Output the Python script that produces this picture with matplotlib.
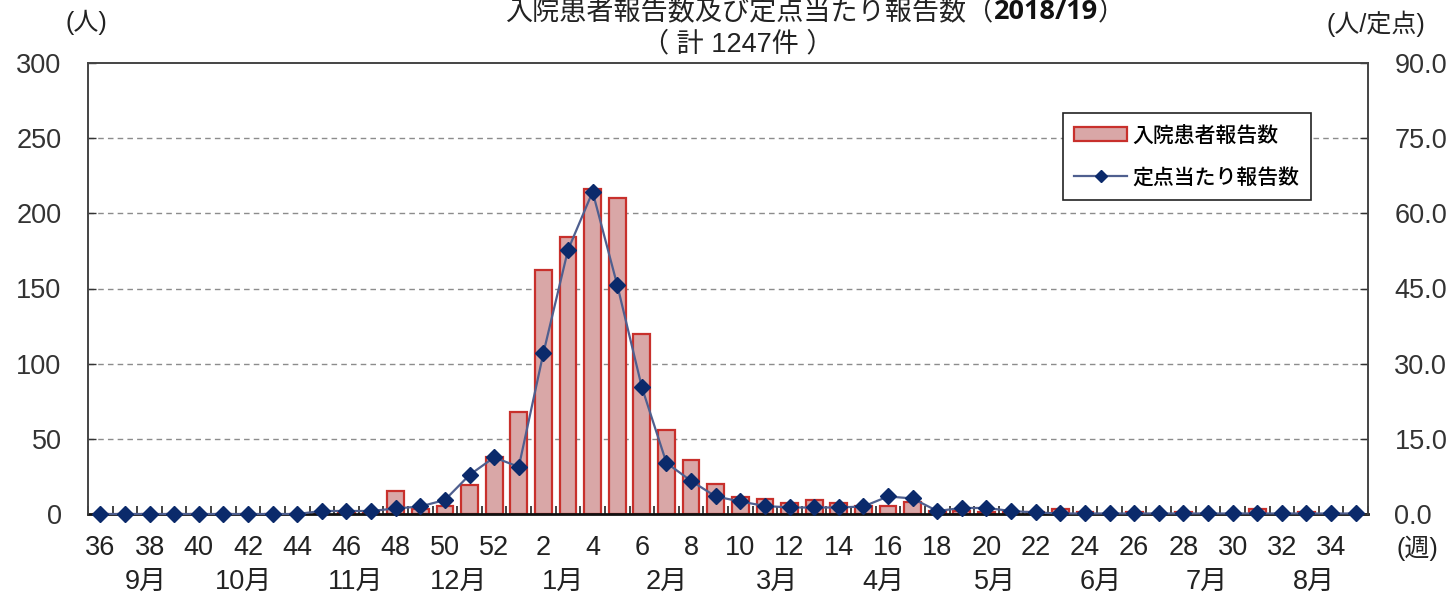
import matplotlib
matplotlib.use("Agg")
import matplotlib.pyplot as plt
from matplotlib.lines import Line2D
from matplotlib.patches import Patch
import numpy as np

plt.rcParams['font.family'] = ['Liberation Sans', 'Noto Sans CJK JP', 'DejaVu Sans']

weeks = list(range(36, 53)) + list(range(1, 36))
patients = [0, 0, 0, 0, 0, 0, 0, 0, 0, 0, 1, 1, 15, 3, 5, 19, 38,
            68, 162, 184, 216, 210, 120, 56, 36, 20, 11, 10, 7, 9, 7, 5, 5, 8,
            2, 2, 1, 1, 1, 3, 1, 0, 1, 0, 1, 0, 0, 3, 0, 1, 0, 0]
per_site = [0, 0, 0, 0, 0, 0, 0, 0, 0, 0.6, 0.6, 0.6, 1.1, 1.5, 2.8, 7.8, 11.3,
            9.4, 32.1, 52.7, 64.3, 45.7, 25.3, 10.2, 6.6, 3.5, 2.5, 1.6, 1.3, 1.3, 1.3, 1.5, 3.5, 3.1,
            0.6, 1.2, 1.2, 0.6, 0.3, 0.1, 0.1, 0.1, 0.1, 0.1, 0.1, 0.1, 0.1, 0.1, 0.1, 0.1, 0.1, 0.1]
months = ['9月', '10月', '11月', '12月', '1月', '2月', '3月', '4月', '5月', '6月', '7月', '8月']
month_pos = [1.85, 5.83, 10.38, 14.56, 18.8, 23.0, 27.5, 31.8, 36.35, 40.65, 44.95, 49.3]
left_ticks = [0, 50, 100, 150, 200, 250, 300]
right_ticks = [0, 15, 30, 45, 60, 75, 90]
title_main = '入院患者報告数及び定点当たり報告数（'
title_bold = '2018/19'
title_end = '）'
subtitle = '（ 計 1247件 ）'
bar_label = '入院患者報告数'
line_label = '定点当たり報告数'

W, H = 1455, 599
FS = 19.5
fig = plt.figure(figsize=(W / 100, H / 100), dpi=100)
ax = fig.add_axes([88 / W, 1 - 514 / H, (1368 - 88) / W, (514 - 63) / H])
ax2 = ax.twinx()

x = np.arange(len(weeks))
ax.bar(x, patients, width=0.68, color='#D9A7A7', edgecolor='#C8302C', linewidth=1.6, zorder=2)
ax.set_xlim(-0.5, len(weeks) - 0.5)
ax.set_ylim(0, 300)
ax.set_yticks(left_ticks)
ax.set_yticklabels([str(v) for v in left_ticks])
for v in left_ticks[1:-1]:
    ax.axhline(v, color='#8C8C8C', lw=1.0, ls=(0, (4, 3)), zorder=1)

ax2.plot(x, per_site, color='#4F5F8F', lw=1.6, marker='D', markersize=8.5,
         markerfacecolor='#0B2A6B', markeredgecolor='#0B2A6B', zorder=3, clip_on=False)
ax2.set_ylim(0, 90)
ax2.set_yticks(right_ticks)
ax2.set_yticklabels([f'{v:.1f}' for v in right_ticks])
ax2.set_xlim(-0.5, len(weeks) - 0.5)

# x ticks at category boundaries
ax.set_xticks(np.arange(-0.5, len(weeks), 1.0))
ax.set_xticklabels([])
ax.tick_params(axis='x', direction='in', length=6, width=1.2, color='#222222')
ax.tick_params(axis='y', direction='in', length=6, width=1.0, labelsize=FS, pad=19, colors='#333333')
ax2.tick_params(axis='y', direction='in', length=6, width=1.0, labelsize=FS, pad=19, colors='#333333')

for sp in ['left', 'right', 'top']:
    ax.spines[sp].set_color('#444444')
    ax.spines[sp].set_linewidth(1.2)
    ax2.spines[sp].set_color('#444444')
    ax2.spines[sp].set_linewidth(1.2)
ax.spines['bottom'].set_color('#111111')
ax.spines['bottom'].set_linewidth(2.0)
ax2.spines['bottom'].set_visible(False)

# week labels (even weeks)
trans = ax.get_xaxis_transform()
for i, wk in enumerate(weeks):
    if wk % 2 == 0:
        ax.text(i, -0.075, str(wk), transform=trans, ha='center', va='center',
                fontsize=FS, color='#222222')
for m, p in zip(months, month_pos):
    ax.text(p, -0.15, m, transform=trans, ha='center', va='center', fontsize=FS,
            color='#222222', family=['Liberation Sans', 'Noto Sans CJK JP'])

cjk = ['Liberation Sans', 'Noto Sans CJK JP']
fig.text(1417 / W, 1 - 548 / H, '(週)', ha='center', va='center', fontsize=18,
         color='#222222', family=cjk)
fig.text(86 / W, 1 - 22 / H, '(人)', ha='center', va='center', fontsize=18,
         color='#222222', family=cjk)
fig.text(1376 / W, 1 - 24 / H, '(人/定点)', ha='center', va='center', fontsize=18,
         color='#222222', family=cjk)

# title
TY = 1 - 12 / H
fig.canvas.draw()
r = fig.canvas.get_renderer()
t1 = fig.text(0, TY, title_main, ha='left', va='center', fontsize=19.5,
              color='#222222', family=['Noto Sans CJK JP'])
t2 = fig.text(0, TY, title_bold, ha='left', va='center', fontsize=19.5,
              color='#111111', fontweight='bold', family=['Open Sans', 'DejaVu Sans'])
t3 = fig.text(0, TY, title_end, ha='left', va='center', fontsize=19.5,
              color='#222222', family=['Noto Sans CJK JP'])
w1 = t1.get_window_extent(r).width
w2 = t2.get_window_extent(r).width
w3 = t3.get_window_extent(r).width
total = w1 + w2 + w3
start = 815 - total / 2
t1.set_x(start / W)
t2.set_x((start + w1) / W)
t3.set_x((start + w1 + w2) / W)

fig.text(738 / W, 1 - 44 / H, subtitle, ha='center', va='center', fontsize=19.5,
         color='#222222', family=cjk)

handles = [Patch(facecolor='#D9A7A7', edgecolor='#C8302C', linewidth=1.6),
           Line2D([0], [0], color='#4F5F8F', lw=1.6, marker='D', markersize=6,
                  markerfacecolor='#0B2A6B', markeredgecolor='#0B2A6B')]
leg = ax2.legend(handles, [bar_label, line_label], loc='upper left',
                 bbox_to_anchor=((1063 - 88) / (1368 - 88), 1 - (113 - 63) / (514 - 63)),
                 frameon=True, fancybox=False, edgecolor='#222222', framealpha=1,
                 prop={'family': 'Noto Sans CJK JP', 'size': 15, 'weight': 'medium'},
                 handlelength=2.5, borderpad=0.55, labelspacing=0.95, handletextpad=0.3,
                 borderaxespad=0)
leg.get_frame().set_linewidth(1.2)

fig.savefig('out.png', dpi=100)
